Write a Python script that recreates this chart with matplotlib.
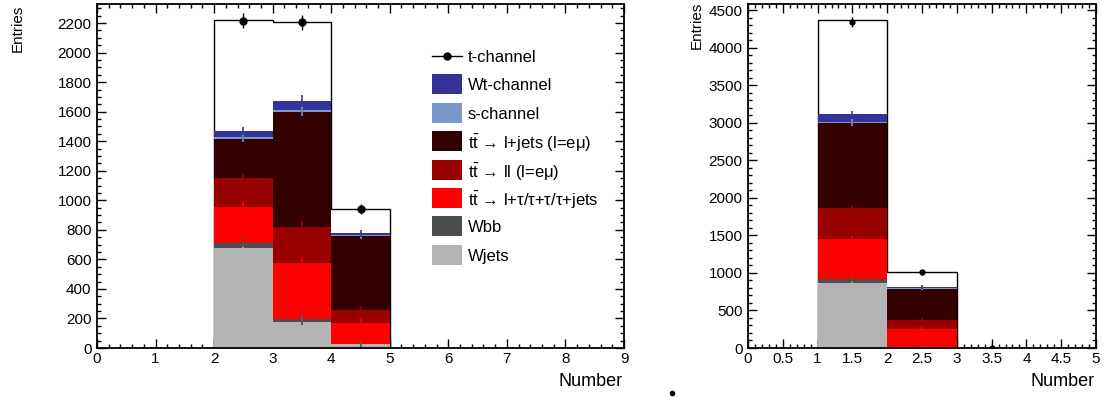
import numpy as np
import matplotlib
matplotlib.use("Agg")
import matplotlib.pyplot as plt
from matplotlib.lines import Line2D
from matplotlib.patches import Rectangle
from matplotlib.ticker import MultipleLocator, FuncFormatter

plt.rcParams['font.family'] = ['Liberation Sans', 'DejaVu Sans']
plt.rcParams['mathtext.fontset'] = 'custom'
plt.rcParams['mathtext.rm'] = 'Liberation Sans'
plt.rcParams['mathtext.it'] = 'Liberation Sans:italic'

# ---- data ----
left_edges = [2, 3, 4, 5]
left_wjets = [675, 178, 25]
left_wbb = [38, 16, 3]
left_tautau = [244, 379, 143]
left_ll = [192, 246, 86]
left_ljets = [264, 781, 503]
left_schan = [14, 10, 3]
left_wt = [42, 64, 13]
left_tchan = [751, 535, 165]
left_data = [2215, 2205, 940]
left_data_err = [50, 50, 32]
left_mc_err = [30, 40, 25]

right_edges = [1, 2, 3, 4]
right_wjets = [869, 8, 0]
right_wbb = [49, 6, 0]
right_tautau = [532, 239, 0]
right_ll = [412, 119, 0]
right_ljets = [1127, 417, 2]
right_schan = [17, 6, 0]
right_wt = [106, 20, 1]
right_tchan = [1250, 196, 2]
right_data = [4345, 1010, 5]
right_data_err = [66, 32, 2]
right_mc_err = [45, 25, 2]

labels = ['t-channel', 'Wt-channel', 's-channel',
          r'$\mathregular{t\bar{t}}$ → l+jets (l=eμ)',
          r'$\mathregular{t\bar{t}}$ → ll (l=eμ)',
          r'$\mathregular{t\bar{t}}$ → l+τ/τ+τ/τ+jets',
          'Wbb', 'Wjets']
colors = {'wjets': '#b3b3b3', 'wbb': '#4d4d4d', 'tautau': '#ff0000',
          'll': '#990000', 'ljets': '#330000', 'schan': '#7799cc',
          'wt': '#333399'}

W, H = 1104, 397
fig = plt.figure(figsize=(W / 100, H / 100), dpi=100)


def draw_panel(rect, edges, comps, tchan, data, data_err, mc_err,
               xmax, ymax, xmaj, xmin, ymaj, ymin, ms):
    ax = fig.add_axes(rect)
    edges = np.array(edges, dtype=float)
    centers = 0.5 * (edges[:-1] + edges[1:])
    names = ['wjets', 'wbb', 'tautau', 'll', 'ljets', 'schan', 'wt']
    bottom = np.zeros(len(centers))
    tops = []
    for n in names:
        top = bottom + np.array(comps[n], dtype=float)
        tops.append((n, top, bottom))
        bottom = top
    total = bottom + np.array(tchan, dtype=float)

    # t-channel on top of the stack: white fill, black step outline
    ax.stairs(total, edges, baseline=0, fill=True, color='white', zorder=1)
    ax.stairs(total, edges, baseline=0, fill=False, color='black', lw=1.0, zorder=1.5)
    for n, top, base in tops:
        ax.stairs(top, edges, baseline=base, fill=True, color=colors[n], lw=0, zorder=2)
    for n, top, base in tops:
        ax.errorbar(centers, top, yerr=mc_err, fmt='none', ecolor=colors[n],
                    elinewidth=1.2, zorder=3)
    ax.errorbar(centers, data, yerr=data_err, fmt='o', color='black', ms=ms,
                elinewidth=1.0, capsize=0, zorder=4)

    ax.set_xlim(0, xmax)
    ax.set_ylim(0, ymax)
    ax.xaxis.set_major_locator(MultipleLocator(xmaj))
    ax.xaxis.set_minor_locator(MultipleLocator(xmin))
    ax.yaxis.set_major_locator(MultipleLocator(ymaj))
    ax.yaxis.set_minor_locator(MultipleLocator(ymin))
    ax.xaxis.set_major_formatter(FuncFormatter(lambda v, p: '%g' % v))
    ax.tick_params(which='both', direction='in', top=True, right=True,
                   labelsize=11, width=1.0, color='black')
    ax.tick_params(which='major', length=6.5)
    ax.tick_params(which='minor', length=3.2)
    ax.tick_params(axis='x', pad=3)
    ax.tick_params(axis='y', pad=4)
    for sp in ax.spines.values():
        sp.set_linewidth(1.3)
        sp.set_zorder(5)
    return ax


left_comps = dict(wjets=left_wjets, wbb=left_wbb, tautau=left_tautau, ll=left_ll,
                  ljets=left_ljets, schan=left_schan, wt=left_wt)
right_comps = dict(wjets=right_wjets, wbb=right_wbb, tautau=right_tautau, ll=right_ll,
                   ljets=right_ljets, schan=right_schan, wt=right_wt)

ax1 = draw_panel([97 / W, 49 / H, (624 - 97) / W, (348 - 4) / H], left_edges, left_comps,
                 left_tchan, left_data, left_data_err, left_mc_err,
                 9, 2329, 1, 0.2, 200, 50, 5)
ax2 = draw_panel([748 / W, 49 / H, (1096 - 748) / W, (348 - 4) / H], right_edges, right_comps,
                 right_tchan, right_data, right_data_err, right_mc_err,
                 5, 4580, 0.5, 0.1, 500, 100, 3.5)

# axis titles, ROOT style
fig.text(18 / W, 1 - 5 / H, 'Entries', rotation=90, ha='center', va='top', fontsize=11)
fig.text(697 / W, 1 - 2 / H, 'Entries', rotation=90, ha='center', va='top', fontsize=11)
fig.text(623 / W, 1 - 382 / H, 'Number', ha='right', va='center', fontsize=13)
fig.text(1095 / W, 1 - 382 / H, 'Number', ha='right', va='center', fontsize=13)

# legend, drawn row by row in pixel units
leg_keys = [None, 'wt', 'schan', 'ljets', 'll', 'tautau', 'wbb', 'wjets']
for i, (key, lab) in enumerate(zip(leg_keys, labels)):
    yc = 1 - (56 + 28.4 * i) / H
    if key is None:
        fig.add_artist(Line2D([432 / W, 462 / W], [yc, yc], color='black', lw=1,
                              transform=fig.transFigure))
        fig.add_artist(Line2D([447 / W], [yc], color='black', marker='o', ms=5,
                              lw=0, transform=fig.transFigure))
    else:
        fig.add_artist(Rectangle((432 / W, yc - 10 / H), 30 / W, 20 / H,
                                 facecolor=colors[key], edgecolor='none',
                                 transform=fig.transFigure))
    fig.text(468 / W, yc, lab, ha='left', va='center_baseline', fontsize=12)

# stray marker below the pads
fig.add_artist(Line2D([672 / W], [1 - 393 / H], marker='o', ms=3, color='black',
                      lw=0, transform=fig.transFigure))

fig.savefig('out.png', dpi=100)
